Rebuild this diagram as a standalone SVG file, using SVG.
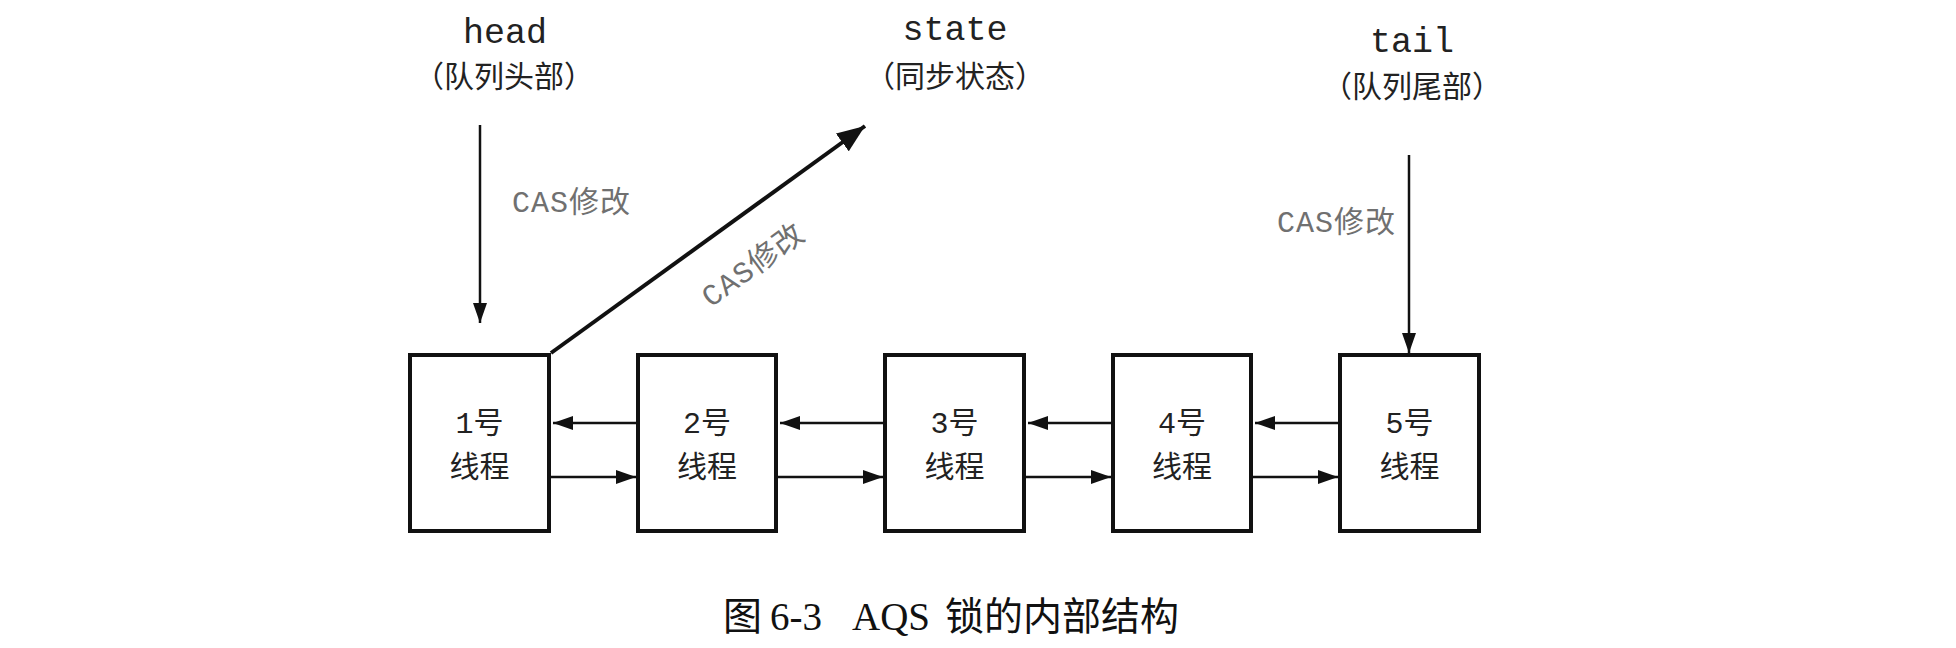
<svg xmlns="http://www.w3.org/2000/svg" width="1956" height="648" viewBox="0 0 1956 648">
  <style>
    .bg { fill: #ffffff; }
    .box { fill: #ffffff; stroke: #111111; stroke-width: 4; }
    .mono { font-family: "Liberation Mono", "Noto Sans CJK SC", monospace; fill: #222222; }
    .cjk { font-family: "Noto Sans CJK SC", sans-serif; fill: #222222; }
    .lbl { font-family: "Liberation Mono", "Noto Sans CJK SC", monospace; font-size: 30px; letter-spacing: 1px; fill: #707070; }
    .node { font-family: "Liberation Mono", "Noto Sans CJK SC", monospace; font-size: 30px; fill: #222222; text-anchor: middle; }
    .thin { stroke: #111111; stroke-width: 2.5; fill: none; }
    .thick { stroke: #111111; stroke-width: 4; fill: none; }
    .cap { font-family: "Liberation Serif", "Noto Sans CJK SC", serif; font-size: 39px; fill: #111111; }
  </style>
  <defs>
    <marker id="ah" markerUnits="userSpaceOnUse" markerWidth="20" markerHeight="14" refX="20" refY="7" orient="auto">
      <path d="M0,0 L20,7 L0,14 z" fill="#111111"/>
    </marker>
    <marker id="ahBig" markerUnits="userSpaceOnUse" markerWidth="28" markerHeight="22" refX="28" refY="11" orient="auto">
      <path d="M0,0 L28,11 L0,22 z" fill="#111111"/>
    </marker>
  </defs>
  <rect class="bg" x="0" y="0" width="1956" height="648"/>

  <!-- top labels -->
  <g id="head">
    <text class="mono" x="505" y="43" font-size="35" text-anchor="middle">head</text>
    <text class="cjk" x="504" y="87" font-size="30" text-anchor="middle">（队列头部）</text>
  </g>
  <g id="state">
    <text class="mono" x="955" y="40" font-size="35" text-anchor="middle">state</text>
    <text class="cjk" x="955" y="87" font-size="30" text-anchor="middle">（同步状态）</text>
  </g>
  <g id="tail">
    <text class="mono" x="1412" y="52" font-size="35" text-anchor="middle">tail</text>
    <text class="cjk" x="1412" y="97" font-size="30" text-anchor="middle">（队列尾部）</text>
  </g>

  <!-- nodes -->
  <g id="node1">
    <rect class="box" x="410" y="355" width="139" height="176"/>
    <text class="node" x="479.5" y="433">1号</text>
    <text class="node" x="479.5" y="477">线程</text>
  </g>
  <g id="node2">
    <rect class="box" x="638" y="355" width="138" height="176"/>
    <text class="node" x="707" y="433">2号</text>
    <text class="node" x="707" y="477">线程</text>
  </g>
  <g id="node3">
    <rect class="box" x="885" y="355" width="139" height="176"/>
    <text class="node" x="954.5" y="433">3号</text>
    <text class="node" x="954.5" y="477">线程</text>
  </g>
  <g id="node4">
    <rect class="box" x="1113" y="355" width="138" height="176"/>
    <text class="node" x="1182" y="433">4号</text>
    <text class="node" x="1182" y="477">线程</text>
  </g>
  <g id="node5">
    <rect class="box" x="1340" y="355" width="139" height="176"/>
    <text class="node" x="1409.5" y="433">5号</text>
    <text class="node" x="1409.5" y="477">线程</text>
  </g>

  <!-- connectors -->
  <g id="connectors">
    <line class="thin" x1="480" y1="125" x2="480" y2="323" marker-end="url(#ah)"/>
    <line class="thin" x1="1409" y1="155" x2="1409" y2="353" marker-end="url(#ah)"/>
    <line class="thick" x1="551" y1="353" x2="865" y2="126" marker-end="url(#ahBig)"/>

    <line class="thin" x1="636" y1="423" x2="553" y2="423" marker-end="url(#ah)"/>
    <line class="thin" x1="883" y1="423" x2="780" y2="423" marker-end="url(#ah)"/>
    <line class="thin" x1="1111" y1="423" x2="1028" y2="423" marker-end="url(#ah)"/>
    <line class="thin" x1="1338" y1="423" x2="1255" y2="423" marker-end="url(#ah)"/>

    <line class="thin" x1="551" y1="477" x2="636" y2="477" marker-end="url(#ah)"/>
    <line class="thin" x1="778" y1="477" x2="883" y2="477" marker-end="url(#ah)"/>
    <line class="thin" x1="1026" y1="477" x2="1111" y2="477" marker-end="url(#ah)"/>
    <line class="thin" x1="1253" y1="477" x2="1338" y2="477" marker-end="url(#ah)"/>

    <text class="lbl" x="512" y="212">CAS修改</text>
    <text class="lbl" x="1277" y="232">CAS修改</text>
    <text class="lbl" x="0" y="0" text-anchor="middle" transform="translate(759,273) rotate(-36)">CAS修改</text>
  </g>

  <!-- caption -->
  <g id="caption">
    <text class="cap" x="723" y="630">图</text>
    <text class="cap" x="770" y="630">6-3</text>
    <text class="cap" x="852" y="630">AQS</text>
    <text class="cap" x="945" y="630">锁的内部结构</text>
  </g>
</svg>
